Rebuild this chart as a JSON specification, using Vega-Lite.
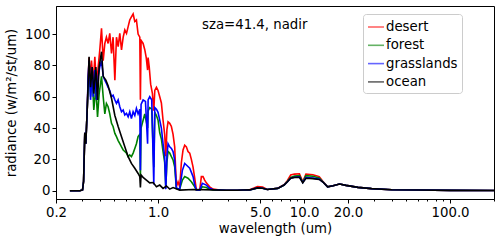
{
  "$schema": "https://vega.github.io/schema/vega-lite/v6.json",
  "width": 438,
  "height": 193,
  "autosize": {"type": "none"},
  "padding": {"left": 56, "top": 6, "right": 6, "bottom": 41},
  "background": "white",
  "config": {
    "view": {"stroke": "#000000", "strokeWidth": 1},
    "font": "DejaVu Sans",
    "axis": {"grid": false, "labelOverlap": false, "domainColor": "#000000", "tickColor": "#000000", "labelColor": "#000000", "titleColor": "#000000", "labelFont": "DejaVu Sans", "titleFont": "DejaVu Sans", "labelFontSize": 13.3, "titleFontSize": 13.3, "titleFontWeight": "normal"}
  },
  "datasets": {
    "spectra": [
      {"s": "desert", "w": 0.249, "v": 0}, {"s": "desert", "w": 0.291, "v": 0}, {"s": "desert", "w": 0.304, "v": 0.5}, {"s": "desert", "w": 0.309, "v": 6}, {"s": "desert", "w": 0.315, "v": 37}, {"s": "desert", "w": 0.32, "v": 30}, {"s": "desert", "w": 0.327, "v": 51},
      {"s": "desert", "w": 0.332, "v": 70}, {"s": "desert", "w": 0.337, "v": 85}, {"s": "desert", "w": 0.341, "v": 70.6}, {"s": "desert", "w": 0.35, "v": 83}, {"s": "desert", "w": 0.36, "v": 68}, {"s": "desert", "w": 0.369, "v": 85.5}, {"s": "desert", "w": 0.379, "v": 66}, {"s": "desert", "w": 0.389, "v": 79}, {"s": "desert", "w": 0.399, "v": 89.8}, {"s": "desert", "w": 0.41, "v": 103.6}, {"s": "desert", "w": 0.421, "v": 83}, {"s": "desert", "w": 0.432, "v": 94}, {"s": "desert", "w": 0.443, "v": 98}, {"s": "desert", "w": 0.455, "v": 94}, {"s": "desert", "w": 0.467, "v": 100.4}, {"s": "desert", "w": 0.48, "v": 87.7}, {"s": "desert", "w": 0.492, "v": 98}, {"s": "desert", "w": 0.506, "v": 70.6}, {"s": "desert", "w": 0.519, "v": 98}, {"s": "desert", "w": 0.533, "v": 92}, {"s": "desert", "w": 0.547, "v": 100.4}, {"s": "desert", "w": 0.562, "v": 89.8}, {"s": "desert", "w": 0.577, "v": 98}, {"s": "desert", "w": 0.592, "v": 102.6}, {"s": "desert", "w": 0.608, "v": 100.4}, {"s": "desert", "w": 0.624, "v": 104.7}, {"s": "desert", "w": 0.64, "v": 109}, {"s": "desert", "w": 0.657, "v": 111}, {"s": "desert", "w": 0.675, "v": 112.8}, {"s": "desert", "w": 0.693, "v": 108}, {"s": "desert", "w": 0.711, "v": 109}, {"s": "desert", "w": 0.73, "v": 100}, {"s": "desert", "w": 0.75, "v": 98}, {"s": "desert", "w": 0.757, "v": 58}, {"s": "desert", "w": 0.765, "v": 96}, {"s": "desert", "w": 0.79, "v": 94}, {"s": "desert", "w": 0.811, "v": 90}, {"s": "desert", "w": 0.83, "v": 85}, {"s": "desert", "w": 0.848, "v": 77}, {"s": "desert", "w": 0.855, "v": 85}, {"s": "desert", "w": 0.87, "v": 79}, {"s": "desert", "w": 0.89, "v": 68}, {"s": "desert", "w": 0.915, "v": 62}, {"s": "desert", "w": 0.935, "v": 51}, {"s": "desert", "w": 0.95, "v": 64}, {"s": "desert", "w": 0.975, "v": 66}, {"s": "desert", "w": 1.0, "v": 64}, {"s": "desert", "w": 1.027, "v": 60}, {"s": "desert", "w": 1.054, "v": 56}, {"s": "desert", "w": 1.082, "v": 45}, {"s": "desert", "w": 1.11, "v": 36}, {"s": "desert", "w": 1.13, "v": 22}, {"s": "desert", "w": 1.15, "v": 39}, {"s": "desert", "w": 1.171, "v": 44}, {"s": "desert", "w": 1.202, "v": 43}, {"s": "desert", "w": 1.234, "v": 41}, {"s": "desert", "w": 1.267, "v": 36}, {"s": "desert", "w": 1.3, "v": 28}, {"s": "desert", "w": 1.335, "v": 2.5}, {"s": "desert", "w": 1.371, "v": 5.7}, {"s": "desert", "w": 1.407, "v": 2.5}, {"s": "desert", "w": 1.445, "v": 18}, {"s": "desert", "w": 1.483, "v": 26}, {"s": "desert", "w": 1.523, "v": 29}, {"s": "desert", "w": 1.563, "v": 28}, {"s": "desert", "w": 1.604, "v": 25}, {"s": "desert", "w": 1.648, "v": 24}, {"s": "desert", "w": 1.691, "v": 20}, {"s": "desert", "w": 1.737, "v": 15}, {"s": "desert", "w": 1.783, "v": 8}, {"s": "desert", "w": 1.83, "v": 0.5}, {"s": "desert", "w": 1.929, "v": 0.4}, {"s": "desert", "w": 1.98, "v": 9}, {"s": "desert", "w": 2.032, "v": 9}, {"s": "desert", "w": 2.086, "v": 6.8}, {"s": "desert", "w": 2.142, "v": 5}, {"s": "desert", "w": 2.258, "v": 2.5}, {"s": "desert", "w": 2.379, "v": 1}, {"s": "desert", "w": 2.642, "v": 0.4}, {"s": "desert", "w": 2.936, "v": 0.3}, {"s": "desert", "w": 3.5, "v": 0.3}, {"s": "desert", "w": 3.82, "v": 0.5}, {"s": "desert", "w": 4.24, "v": 0.6}, {"s": "desert", "w": 4.8, "v": 2.6}, {"s": "desert", "w": 5.2, "v": 2.3}, {"s": "desert", "w": 5.6, "v": 0.8}, {"s": "desert", "w": 6.6, "v": 1.6}, {"s": "desert", "w": 7.3, "v": 3.8}, {"s": "desert", "w": 7.7, "v": 6.5}, {"s": "desert", "w": 8.1, "v": 10}, {"s": "desert", "w": 8.6, "v": 10.6}, {"s": "desert", "w": 9.3, "v": 10.8}, {"s": "desert", "w": 9.8, "v": 5.7}, {"s": "desert", "w": 10.3, "v": 10.6}, {"s": "desert", "w": 11.5, "v": 10.2}, {"s": "desert", "w": 12.7, "v": 9}, {"s": "desert", "w": 13.4, "v": 6.2}, {"s": "desert", "w": 14.5, "v": 2.5}, {"s": "desert", "w": 15.8, "v": 3.2}, {"s": "desert", "w": 17.5, "v": 4.3}, {"s": "desert", "w": 19.4, "v": 3.4}, {"s": "desert", "w": 23.4, "v": 2.1}, {"s": "desert", "w": 29, "v": 1.3}, {"s": "desert", "w": 40, "v": 0.6}, {"s": "desert", "w": 60, "v": 0.4}, {"s": "desert", "w": 100, "v": 0.2}, {"s": "desert", "w": 200, "v": 0.1},

      {"s": "forest", "w": 0.249, "v": 0}, {"s": "forest", "w": 0.291, "v": 0}, {"s": "forest", "w": 0.304, "v": 0.5}, {"s": "forest", "w": 0.309, "v": 6}, {"s": "forest", "w": 0.315, "v": 37}, {"s": "forest", "w": 0.32, "v": 30}, {"s": "forest", "w": 0.327, "v": 51},
      {"s": "forest", "w": 0.332, "v": 66}, {"s": "forest", "w": 0.337, "v": 79}, {"s": "forest", "w": 0.345, "v": 60}, {"s": "forest", "w": 0.354, "v": 73}, {"s": "forest", "w": 0.363, "v": 51.5}, {"s": "forest", "w": 0.375, "v": 66}, {"s": "forest", "w": 0.385, "v": 47}, {"s": "forest", "w": 0.395, "v": 62}, {"s": "forest", "w": 0.41, "v": 73}, {"s": "forest", "w": 0.421, "v": 60}, {"s": "forest", "w": 0.432, "v": 49}, {"s": "forest", "w": 0.443, "v": 55.7}, {"s": "forest", "w": 0.455, "v": 53.6}, {"s": "forest", "w": 0.467, "v": 49}, {"s": "forest", "w": 0.48, "v": 43}, {"s": "forest", "w": 0.492, "v": 41}, {"s": "forest", "w": 0.506, "v": 36.6}, {"s": "forest", "w": 0.519, "v": 34.5}, {"s": "forest", "w": 0.533, "v": 32}, {"s": "forest", "w": 0.547, "v": 30}, {"s": "forest", "w": 0.562, "v": 28}, {"s": "forest", "w": 0.577, "v": 26}, {"s": "forest", "w": 0.592, "v": 25}, {"s": "forest", "w": 0.608, "v": 24}, {"s": "forest", "w": 0.624, "v": 21.7}, {"s": "forest", "w": 0.64, "v": 22.8}, {"s": "forest", "w": 0.657, "v": 21.7}, {"s": "forest", "w": 0.675, "v": 24}, {"s": "forest", "w": 0.693, "v": 27}, {"s": "forest", "w": 0.711, "v": 30}, {"s": "forest", "w": 0.73, "v": 34.5}, {"s": "forest", "w": 0.75, "v": 36}, {"s": "forest", "w": 0.757, "v": 8}, {"s": "forest", "w": 0.765, "v": 40}, {"s": "forest", "w": 0.79, "v": 45}, {"s": "forest", "w": 0.811, "v": 49}, {"s": "forest", "w": 0.848, "v": 40}, {"s": "forest", "w": 0.855, "v": 51}, {"s": "forest", "w": 0.877, "v": 53}, {"s": "forest", "w": 0.905, "v": 52}, {"s": "forest", "w": 0.935, "v": 15}, {"s": "forest", "w": 0.95, "v": 50}, {"s": "forest", "w": 0.975, "v": 48}, {"s": "forest", "w": 1.0, "v": 45}, {"s": "forest", "w": 1.027, "v": 37}, {"s": "forest", "w": 1.054, "v": 33}, {"s": "forest", "w": 1.082, "v": 25}, {"s": "forest", "w": 1.11, "v": 18}, {"s": "forest", "w": 1.13, "v": 2}, {"s": "forest", "w": 1.15, "v": 18}, {"s": "forest", "w": 1.171, "v": 25}, {"s": "forest", "w": 1.202, "v": 24}, {"s": "forest", "w": 1.234, "v": 21.7}, {"s": "forest", "w": 1.267, "v": 19.6}, {"s": "forest", "w": 1.3, "v": 15.3}, {"s": "forest", "w": 1.335, "v": 1.5}, {"s": "forest", "w": 1.407, "v": 1}, {"s": "forest", "w": 1.468, "v": 6.8}, {"s": "forest", "w": 1.523, "v": 9}, {"s": "forest", "w": 1.604, "v": 8}, {"s": "forest", "w": 1.691, "v": 5.7}, {"s": "forest", "w": 1.783, "v": 2.5}, {"s": "forest", "w": 1.83, "v": 0.5}, {"s": "forest", "w": 1.929, "v": 0.4}, {"s": "forest", "w": 2.011, "v": 2.5}, {"s": "forest", "w": 2.142, "v": 2}, {"s": "forest", "w": 2.258, "v": 1}, {"s": "forest", "w": 2.379, "v": 0.5}, {"s": "forest", "w": 2.936, "v": 0.3}, {"s": "forest", "w": 3.5, "v": 0.3}, {"s": "forest", "w": 3.82, "v": 0.4}, {"s": "forest", "w": 4.24, "v": 0.5}, {"s": "forest", "w": 4.8, "v": 1.8}, {"s": "forest", "w": 5.2, "v": 1.6}, {"s": "forest", "w": 5.6, "v": 0.8}, {"s": "forest", "w": 6.6, "v": 1.5}, {"s": "forest", "w": 7.3, "v": 3.6}, {"s": "forest", "w": 7.7, "v": 6}, {"s": "forest", "w": 8.1, "v": 8.5}, {"s": "forest", "w": 8.6, "v": 9.4}, {"s": "forest", "w": 9.3, "v": 9.6}, {"s": "forest", "w": 9.8, "v": 5.4}, {"s": "forest", "w": 10.3, "v": 9.6}, {"s": "forest", "w": 11.5, "v": 9.2}, {"s": "forest", "w": 12.7, "v": 8.2}, {"s": "forest", "w": 13.4, "v": 5.9}, {"s": "forest", "w": 14.5, "v": 2.5}, {"s": "forest", "w": 15.8, "v": 3.2}, {"s": "forest", "w": 17.5, "v": 4.3}, {"s": "forest", "w": 19.4, "v": 3.4}, {"s": "forest", "w": 23.4, "v": 2.1}, {"s": "forest", "w": 29, "v": 1.3}, {"s": "forest", "w": 40, "v": 0.6}, {"s": "forest", "w": 60, "v": 0.4}, {"s": "forest", "w": 100, "v": 0.2}, {"s": "forest", "w": 200, "v": 0.1},

      {"s": "grasslands", "w": 0.249, "v": 0}, {"s": "grasslands", "w": 0.291, "v": 0}, {"s": "grasslands", "w": 0.304, "v": 0.5}, {"s": "grasslands", "w": 0.309, "v": 6}, {"s": "grasslands", "w": 0.315, "v": 37}, {"s": "grasslands", "w": 0.32, "v": 30}, {"s": "grasslands", "w": 0.327, "v": 51},
      {"s": "grasslands", "w": 0.332, "v": 72.8}, {"s": "grasslands", "w": 0.337, "v": 83}, {"s": "grasslands", "w": 0.345, "v": 58}, {"s": "grasslands", "w": 0.354, "v": 79}, {"s": "grasslands", "w": 0.36, "v": 60}, {"s": "grasslands", "w": 0.369, "v": 77}, {"s": "grasslands", "w": 0.379, "v": 58}, {"s": "grasslands", "w": 0.389, "v": 73}, {"s": "grasslands", "w": 0.399, "v": 79}, {"s": "grasslands", "w": 0.41, "v": 83}, {"s": "grasslands", "w": 0.421, "v": 73}, {"s": "grasslands", "w": 0.432, "v": 70.6}, {"s": "grasslands", "w": 0.443, "v": 68.5}, {"s": "grasslands", "w": 0.455, "v": 66}, {"s": "grasslands", "w": 0.467, "v": 64}, {"s": "grasslands", "w": 0.48, "v": 60}, {"s": "grasslands", "w": 0.492, "v": 61}, {"s": "grasslands", "w": 0.506, "v": 58}, {"s": "grasslands", "w": 0.519, "v": 55.7}, {"s": "grasslands", "w": 0.533, "v": 58}, {"s": "grasslands", "w": 0.547, "v": 53.6}, {"s": "grasslands", "w": 0.562, "v": 50.4}, {"s": "grasslands", "w": 0.577, "v": 51.5}, {"s": "grasslands", "w": 0.592, "v": 48.3}, {"s": "grasslands", "w": 0.608, "v": 49.4}, {"s": "grasslands", "w": 0.624, "v": 47.2}, {"s": "grasslands", "w": 0.64, "v": 50.4}, {"s": "grasslands", "w": 0.657, "v": 46}, {"s": "grasslands", "w": 0.675, "v": 50.4}, {"s": "grasslands", "w": 0.693, "v": 48}, {"s": "grasslands", "w": 0.711, "v": 52.6}, {"s": "grasslands", "w": 0.73, "v": 49}, {"s": "grasslands", "w": 0.75, "v": 52}, {"s": "grasslands", "w": 0.757, "v": 13}, {"s": "grasslands", "w": 0.765, "v": 55}, {"s": "grasslands", "w": 0.79, "v": 58}, {"s": "grasslands", "w": 0.82, "v": 57}, {"s": "grasslands", "w": 0.848, "v": 30}, {"s": "grasslands", "w": 0.855, "v": 58}, {"s": "grasslands", "w": 0.877, "v": 60}, {"s": "grasslands", "w": 0.905, "v": 58}, {"s": "grasslands", "w": 0.935, "v": 4}, {"s": "grasslands", "w": 0.95, "v": 53}, {"s": "grasslands", "w": 0.975, "v": 52}, {"s": "grasslands", "w": 1.0, "v": 50}, {"s": "grasslands", "w": 1.027, "v": 45}, {"s": "grasslands", "w": 1.054, "v": 40}, {"s": "grasslands", "w": 1.082, "v": 30}, {"s": "grasslands", "w": 1.11, "v": 22}, {"s": "grasslands", "w": 1.13, "v": 1}, {"s": "grasslands", "w": 1.15, "v": 22}, {"s": "grasslands", "w": 1.171, "v": 30}, {"s": "grasslands", "w": 1.202, "v": 28}, {"s": "grasslands", "w": 1.234, "v": 27}, {"s": "grasslands", "w": 1.267, "v": 25}, {"s": "grasslands", "w": 1.3, "v": 19.6}, {"s": "grasslands", "w": 1.335, "v": 1.5}, {"s": "grasslands", "w": 1.407, "v": 1}, {"s": "grasslands", "w": 1.468, "v": 13}, {"s": "grasslands", "w": 1.523, "v": 17.4}, {"s": "grasslands", "w": 1.563, "v": 16.4}, {"s": "grasslands", "w": 1.648, "v": 14.3}, {"s": "grasslands", "w": 1.737, "v": 9}, {"s": "grasslands", "w": 1.783, "v": 3.6}, {"s": "grasslands", "w": 1.83, "v": 0.5}, {"s": "grasslands", "w": 1.929, "v": 0.4}, {"s": "grasslands", "w": 2.011, "v": 4.7}, {"s": "grasslands", "w": 2.142, "v": 3.6}, {"s": "grasslands", "w": 2.258, "v": 1.5}, {"s": "grasslands", "w": 2.379, "v": 0.8}, {"s": "grasslands", "w": 2.936, "v": 0.3}, {"s": "grasslands", "w": 3.5, "v": 0.3}, {"s": "grasslands", "w": 3.82, "v": 0.4}, {"s": "grasslands", "w": 4.24, "v": 0.5}, {"s": "grasslands", "w": 4.8, "v": 1.8}, {"s": "grasslands", "w": 5.2, "v": 1.6}, {"s": "grasslands", "w": 5.6, "v": 0.8}, {"s": "grasslands", "w": 6.6, "v": 1.5}, {"s": "grasslands", "w": 7.3, "v": 3.6}, {"s": "grasslands", "w": 7.7, "v": 5.7}, {"s": "grasslands", "w": 8.1, "v": 8}, {"s": "grasslands", "w": 8.6, "v": 8.6}, {"s": "grasslands", "w": 9.3, "v": 8.8}, {"s": "grasslands", "w": 9.8, "v": 5.2}, {"s": "grasslands", "w": 10.3, "v": 8.3}, {"s": "grasslands", "w": 11.5, "v": 8}, {"s": "grasslands", "w": 12.7, "v": 7.4}, {"s": "grasslands", "w": 13.4, "v": 5.7}, {"s": "grasslands", "w": 14.5, "v": 2.5}, {"s": "grasslands", "w": 15.8, "v": 3.2}, {"s": "grasslands", "w": 17.5, "v": 4.3}, {"s": "grasslands", "w": 19.4, "v": 3.4}, {"s": "grasslands", "w": 23.4, "v": 2.1}, {"s": "grasslands", "w": 29, "v": 1.3}, {"s": "grasslands", "w": 40, "v": 0.6}, {"s": "grasslands", "w": 60, "v": 0.4}, {"s": "grasslands", "w": 100, "v": 0.2}, {"s": "grasslands", "w": 200, "v": 0.1},

      {"s": "ocean", "w": 0.249, "v": 0}, {"s": "ocean", "w": 0.291, "v": 0}, {"s": "ocean", "w": 0.304, "v": 0.5}, {"s": "ocean", "w": 0.309, "v": 6}, {"s": "ocean", "w": 0.315, "v": 37}, {"s": "ocean", "w": 0.32, "v": 30}, {"s": "ocean", "w": 0.327, "v": 51},
      {"s": "ocean", "w": 0.337, "v": 85.5}, {"s": "ocean", "w": 0.345, "v": 66}, {"s": "ocean", "w": 0.354, "v": 79}, {"s": "ocean", "w": 0.363, "v": 62}, {"s": "ocean", "w": 0.375, "v": 79}, {"s": "ocean", "w": 0.385, "v": 58}, {"s": "ocean", "w": 0.395, "v": 79}, {"s": "ocean", "w": 0.41, "v": 88.7}, {"s": "ocean", "w": 0.421, "v": 73}, {"s": "ocean", "w": 0.439, "v": 70.6}, {"s": "ocean", "w": 0.455, "v": 67}, {"s": "ocean", "w": 0.48, "v": 59}, {"s": "ocean", "w": 0.506, "v": 48}, {"s": "ocean", "w": 0.533, "v": 41}, {"s": "ocean", "w": 0.562, "v": 34.5}, {"s": "ocean", "w": 0.592, "v": 28}, {"s": "ocean", "w": 0.624, "v": 21.7}, {"s": "ocean", "w": 0.657, "v": 17.4}, {"s": "ocean", "w": 0.693, "v": 14.3}, {"s": "ocean", "w": 0.73, "v": 11}, {"s": "ocean", "w": 0.75, "v": 9}, {"s": "ocean", "w": 0.757, "v": 2}, {"s": "ocean", "w": 0.765, "v": 10}, {"s": "ocean", "w": 0.79, "v": 8.5}, {"s": "ocean", "w": 0.832, "v": 6.8}, {"s": "ocean", "w": 0.877, "v": 5}, {"s": "ocean", "w": 0.925, "v": 5.2}, {"s": "ocean", "w": 0.975, "v": 2.5}, {"s": "ocean", "w": 1.027, "v": 3.6}, {"s": "ocean", "w": 1.082, "v": 1.5}, {"s": "ocean", "w": 1.141, "v": 3}, {"s": "ocean", "w": 1.202, "v": 1}, {"s": "ocean", "w": 1.267, "v": 2}, {"s": "ocean", "w": 1.407, "v": 0.4}, {"s": "ocean", "w": 1.737, "v": 0.8}, {"s": "ocean", "w": 2.379, "v": 0.5}, {"s": "ocean", "w": 2.936, "v": 0.3}, {"s": "ocean", "w": 3.5, "v": 0.3}, {"s": "ocean", "w": 3.82, "v": 0.4}, {"s": "ocean", "w": 4.24, "v": 0.5}, {"s": "ocean", "w": 4.8, "v": 1.8}, {"s": "ocean", "w": 5.2, "v": 1.6}, {"s": "ocean", "w": 5.6, "v": 0.8}, {"s": "ocean", "w": 6.6, "v": 1.5}, {"s": "ocean", "w": 7.3, "v": 3.6}, {"s": "ocean", "w": 7.7, "v": 5.7}, {"s": "ocean", "w": 8.1, "v": 8}, {"s": "ocean", "w": 8.6, "v": 8.5}, {"s": "ocean", "w": 9.3, "v": 8.6}, {"s": "ocean", "w": 9.8, "v": 5.1}, {"s": "ocean", "w": 10.3, "v": 7.9}, {"s": "ocean", "w": 11.5, "v": 7.7}, {"s": "ocean", "w": 12.7, "v": 7.2}, {"s": "ocean", "w": 13.4, "v": 5.7}, {"s": "ocean", "w": 14.5, "v": 2.5}, {"s": "ocean", "w": 15.8, "v": 3.2}, {"s": "ocean", "w": 17.5, "v": 4.3}, {"s": "ocean", "w": 19.4, "v": 3.4}, {"s": "ocean", "w": 23.4, "v": 2.1}, {"s": "ocean", "w": 29, "v": 1.3}, {"s": "ocean", "w": 40, "v": 0.6}, {"s": "ocean", "w": 60, "v": 0.4}, {"s": "ocean", "w": 100, "v": 0.2}, {"s": "ocean", "w": 200, "v": 0.1}
    ],
    "note": [{"w": 2.0, "v": 105.7, "label": "sza=41.4, nadir"}]
  },
  "encoding": {
    "x": {
      "field": "w", "type": "quantitative",
      "scale": {"type": "log", "domain": [0.2, 200], "nice": false},
      "axis": {
        "title": "wavelength (um)",
        "values": [0.2, 0.3, 0.4, 0.5, 0.6, 0.7, 0.8, 0.9, 1, 2, 3, 4, 5, 6, 7, 8, 9, 10, 20, 30, 40, 50, 60, 70, 80, 90, 100, 200],
        "labelExpr": "indexof([0.2, 1, 5, 10, 20, 100], datum.value) >= 0 ? format(datum.value, '.1f') : ''",
        "labelOverlap": false,
        "labelFlush": false,
        "tickSize": {"condition": {"test": "indexof([0.2, 1, 5, 10, 20, 100], datum.value) >= 0", "value": 4}, "value": 2},
        "labelPadding": 2,
        "titlePadding": 3
      }
    },
    "y": {
      "field": "v", "type": "quantitative",
      "scale": {"domain": [-5.3, 117.9], "nice": false, "zero": false},
      "axis": {
        "title": "radiance (w/m²/st/um)",
        "values": [0, 20, 40, 60, 80, 100],
        "labelOverlap": false,
        "labelFlush": false,
        "tickSize": 4,
        "labelPadding": 2,
        "titlePadding": 6
      }
    }
  },
  "layer": [
    {
      "data": {"name": "spectra"},
      "mark": {"type": "line", "strokeWidth": 1.6, "clip": true, "interpolate": "linear"},
      "encoding": {
        "color": {
          "field": "s", "type": "nominal",
          "scale": {"domain": ["desert", "forest", "grasslands", "ocean"], "range": ["#ff0000", "#008000", "#0000ff", "#000000"]},
          "legend": {
            "title": null,
            "orient": "none",
            "legendX": 307,
            "legendY": 8,
            "symbolType": "stroke",
            "symbolSize": 256,
            "symbolStrokeWidth": 1.6,
            "symbolOpacity": 0.6,
            "labelFont": "DejaVu Sans",
            "labelFontSize": 13.3,
            "labelColor": "#000000",
            "labelOffset": 1,
            "rowPadding": 2.3,
            "padding": 4,
            "strokeColor": "#cccccc",
            "fillColor": "#ffffff",
            "cornerRadius": 3
          }
        }
      }
    },
    {
      "data": {"name": "note"},
      "mark": {"type": "text", "align": "left", "baseline": "middle", "font": "DejaVu Sans", "fontSize": 13.3, "color": "#000000"},
      "encoding": {
        "text": {"field": "label"}
      }
    }
  ]
}
